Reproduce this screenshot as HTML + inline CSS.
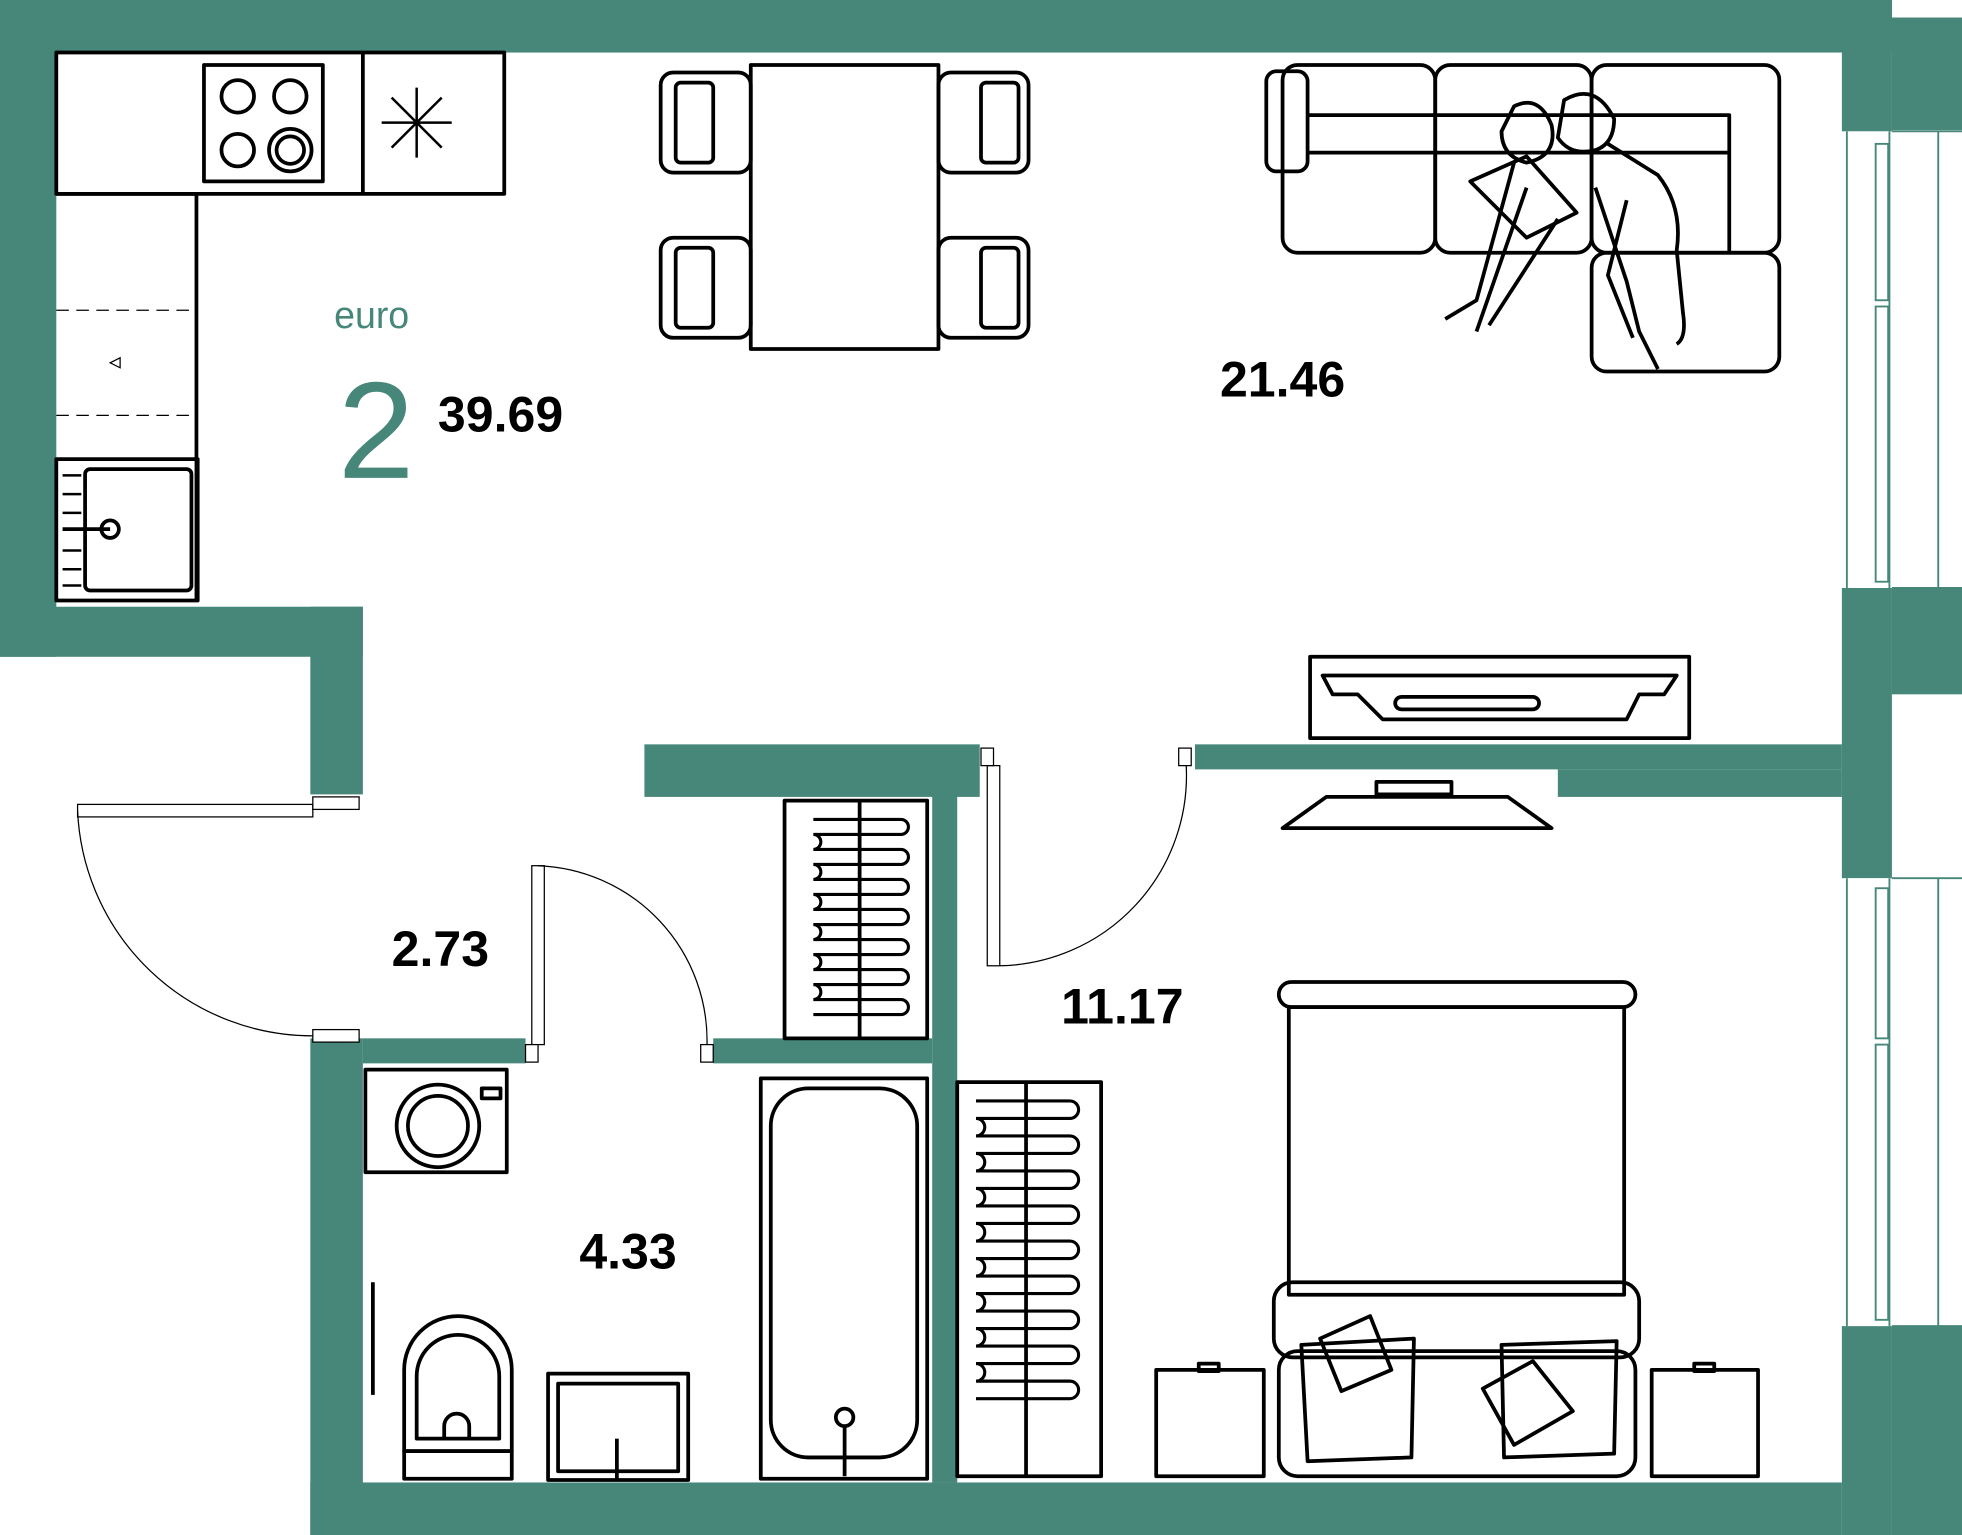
<!DOCTYPE html>
<html><head><meta charset="utf-8"><style>
html,body{margin:0;padding:0;background:#fff}
svg{display:block}
text{font-family:"Liberation Sans",sans-serif}
</style></head><body>
<svg width="1962" height="1535" viewBox="0 0 1568 1227" preserveAspectRatio="none" xmlns="http://www.w3.org/2000/svg">
<g fill="#47877A">
<!-- outer walls -->
<rect x="0" y="0" width="1512" height="42"/>
<rect x="1472" y="0" width="40" height="105"/>
<rect x="1512" y="14" width="56" height="90"/>
<rect x="0" y="0" width="45" height="525"/>
<rect x="0" y="485" width="290" height="40"/>
<rect x="248" y="485" width="42" height="150"/>
<rect x="248" y="830" width="42" height="397"/>
<rect x="248" y="1185" width="1224" height="42"/>
<rect x="1472" y="470" width="40" height="232"/>
<rect x="1512" y="470" width="56" height="85"/>
<rect x="1472" y="1060" width="40" height="167"/>
<rect x="1512" y="1060" width="56" height="167"/>
<!-- interior walls -->
<rect x="515" y="595" width="268" height="42"/>
<rect x="745" y="615" width="20" height="570"/>
<rect x="955" y="595" width="517" height="20"/>
<rect x="1245" y="615" width="227" height="22"/>
<rect x="290" y="830" width="130" height="20"/>
<rect x="570" y="830" width="175" height="20"/>
</g>
<!-- windows -->
<g fill="none" stroke="#47877A" stroke-width="1.5">
<rect x="1474" y="105" width="36" height="365" fill="#fff" stroke="none"/>
<line x1="1476" y1="105" x2="1476" y2="470"/><line x1="1510" y1="105" x2="1510" y2="470"/>
<rect x="1499" y="115" width="10" height="125"/><rect x="1499" y="245" width="10" height="220"/>
<line x1="1512" y1="105" x2="1568" y2="105"/><line x1="1512" y1="470" x2="1568" y2="470"/><line x1="1549" y1="105" x2="1549" y2="470"/>
<rect x="1474" y="702" width="36" height="358" fill="#fff" stroke="none"/>
<line x1="1476" y1="702" x2="1476" y2="1060"/><line x1="1510" y1="702" x2="1510" y2="1060"/>
<rect x="1499" y="710" width="10" height="120"/><rect x="1499" y="835" width="10" height="220"/>
<line x1="1512" y1="702" x2="1568" y2="702"/><line x1="1512" y1="1060" x2="1568" y2="1060"/><line x1="1549" y1="702" x2="1549" y2="1060"/>
</g>
<!-- doors -->
<g fill="#fff" stroke="#000" stroke-width="1">
<rect x="62" y="643" width="188" height="10"/>
<rect x="250" y="637" width="37" height="10"/>
<rect x="250" y="823" width="37" height="10"/>
<path d="M62 648 A188 188 0 0 0 250 828" fill="none"/>
<rect x="425" y="692" width="10" height="143"/>
<rect x="420" y="835" width="10" height="14"/>
<path d="M430 692 A140 140 0 0 1 565 836" fill="none"/>
<rect x="560" y="835" width="10" height="14"/>
<rect x="789" y="612" width="10" height="160"/>
<rect x="784" y="598" width="10" height="14"/>
<rect x="942" y="598" width="10" height="14"/>
<path d="M799 772 A152 152 0 0 0 948 612" fill="none"/>
</g>
<g fill="none" stroke="#000" stroke-width="3" stroke-linejoin="round">
<!-- kitchen -->
<rect x="45" y="42" width="358" height="113"/>
<line x1="290" y1="42" x2="290" y2="155"/>
<line x1="157" y1="155" x2="157" y2="480"/>
<line x1="45" y1="155" x2="157" y2="155"/>
<rect x="163" y="52" width="95" height="93"/>
<circle cx="190" cy="77" r="13"/><circle cx="232" cy="77" r="13"/><circle cx="190" cy="120" r="13"/><circle cx="232" cy="120" r="17"/><circle cx="232" cy="120" r="11"/>
<g stroke-width="2"><line x1="333" y1="70" x2="333" y2="126"/><line x1="305" y1="98" x2="361" y2="98"/><line x1="313" y1="78" x2="353" y2="118"/><line x1="313" y1="118" x2="353" y2="78"/></g>
<rect x="45" y="367" width="113" height="113"/>
<rect x="68" y="375" width="85" height="97" rx="4"/>
<circle cx="88" cy="423" r="7"/><line x1="50" y1="423" x2="88" y2="423"/>
<g stroke-width="2"><line x1="50" y1="380" x2="65" y2="380"/><line x1="50" y1="395" x2="65" y2="395"/><line x1="50" y1="410" x2="65" y2="410"/><line x1="50" y1="440" x2="65" y2="440"/><line x1="50" y1="455" x2="65" y2="455"/><line x1="50" y1="468" x2="65" y2="468"/></g>
<!-- dining -->
<rect x="600" y="52" width="150" height="227"/>
<rect x="528" y="58" width="72" height="80" rx="10"/><rect x="540" y="66" width="30" height="64" rx="4"/>
<rect x="528" y="190" width="72" height="80" rx="10"/><rect x="540" y="198" width="30" height="64" rx="4"/>
<rect x="750" y="58" width="72" height="80" rx="10"/><rect x="784" y="66" width="30" height="64" rx="4"/>
<rect x="750" y="190" width="72" height="80" rx="10"/><rect x="784" y="198" width="30" height="64" rx="4"/>
<!-- sofa -->
<rect x="1025" y="52" width="122" height="150" rx="12"/>
<rect x="1147" y="52" width="125" height="150" rx="12"/>
<rect x="1272" y="52" width="150" height="150" rx="12"/>
<rect x="1272" y="202" width="150" height="95" rx="12"/>
<rect x="1012" y="57" width="33" height="80" rx="8"/>
<path d="M1045 92 H1382 V202 M1045 122 H1382"/>
<!-- people (simplified) -->
<path d="M1210 85 q20 -10 30 15 q5 25 -20 30 q-20 -5 -20 -25 z"/>
<path d="M1250 80 q25 -15 40 15 q0 20 -15 25 q-20 5 -30 -10 z"/>
<path d="M1175 145 l45 45 l40 -20 l-40 -45 z"/>
<path d="M1210 130 l-30 110 l-25 15 M1220 150 l-40 115 M1245 175 l-55 85"/>
<path d="M1285 115 l40 25 q20 25 15 60 l5 50 q3 20 -5 25 M1275 150 l25 75 l10 40 l15 30 M1300 160 l-15 60 l20 50"/>
<!-- TV stand -->
<rect x="1047" y="525" width="303" height="65"/>
<path d="M1057 540 H1340 L1330 555 H1310 L1300 575 H1105 L1085 555 H1065 Z"/>
<rect x="1115" y="557" width="115" height="10" rx="5"/>
<path d="M1025 662 L1060 637 H1205 L1240 662 Z"/>
<rect x="1100" y="625" width="60" height="10"/>
<!-- radiators -->
<rect x="627" y="640" width="114" height="190"/>
<line x1="687" y1="640" x2="687" y2="830"/>
<rect x="765" y="865" width="115" height="315"/>
<line x1="820" y1="865" x2="820" y2="1180"/>
<!-- washer -->
<rect x="292" y="855" width="113" height="82"/>
<circle cx="350" cy="900" r="33"/><circle cx="350" cy="900" r="24"/>
<rect x="385" y="870" width="15" height="8"/>
<!-- toilet -->
<path d="M323 1160 V1095 a43 43 0 0 1 86 0 V1160 Z"/>
<path d="M333 1150 V1100 a33 33 0 0 1 66 0 V1150 Z"/>
<rect x="323" y="1160" width="86" height="22"/>
<path d="M355 1150 v-10 a10 10 0 0 1 20 0 v10"/>
<line x1="298" y1="1025" x2="298" y2="1115"/>
<!-- sink -->
<rect x="438" y="1098" width="112" height="85"/>
<rect x="446" y="1106" width="96" height="70"/>
<line x1="493" y1="1150" x2="493" y2="1183"/>
<!-- bath -->
<rect x="608" y="862" width="133" height="320"/>
<rect x="616" y="870" width="117" height="295" rx="30"/>
<circle cx="675" cy="1133" r="7"/><line x1="675" y1="1140" x2="675" y2="1180"/>
<!-- bed -->
<rect x="1022" y="785" width="285" height="20" rx="10"/>
<rect x="1030" y="805" width="268" height="230"/>
<rect x="1018" y="1025" width="292" height="60" rx="15"/>
<rect x="1022" y="1080" width="285" height="100" rx="15"/>
<path d="M1040 1075 L1130 1070 L1128 1165 L1045 1168 Z"/>
<path d="M1200 1075 L1292 1072 L1290 1162 L1202 1165 Z"/>
<path d="M1055 1070 L1095 1052 L1112 1095 L1072 1112 Z"/>
<path d="M1185 1110 L1225 1088 L1257 1128 L1210 1155 Z"/>
<rect x="924" y="1095" width="86" height="85"/><rect x="958" y="1090" width="16" height="6"/>
<rect x="1320" y="1095" width="85" height="85"/><rect x="1354" y="1090" width="16" height="6"/>
</g>
<g fill="none" stroke="#000" stroke-width="2.5">
<path d="M650 655 h70 a6 6 0 0 1 0 12 h-70 a6 6 0 0 1 0 12 h70 a6 6 0 0 1 0 12 h-70 a6 6 0 0 1 0 12 h70 a6 6 0 0 1 0 12 h-70 a6 6 0 0 1 0 12 h70 a6 6 0 0 1 0 12 h-70 a6 6 0 0 1 0 12 h70 a6 6 0 0 1 0 12 h-70 a6 6 0 0 1 0 12 h70 a6 6 0 0 1 0 12 h-70 a6 6 0 0 1 0 12 h70 a6 6 0 0 1 0 12 h-70"/>
<path d="M780 880 h75 a7 7 0 0 1 0 14 h-75 a7 7 0 0 1 0 14 h75 a7 7 0 0 1 0 14 h-75 a7 7 0 0 1 0 14 h75 a7 7 0 0 1 0 14 h-75 a7 7 0 0 1 0 14 h75 a7 7 0 0 1 0 14 h-75 a7 7 0 0 1 0 14 h75 a7 7 0 0 1 0 14 h-75 a7 7 0 0 1 0 14 h75 a7 7 0 0 1 0 14 h-75 a7 7 0 0 1 0 14 h75 a7 7 0 0 1 0 14 h-75 a7 7 0 0 1 0 14 h75 a7 7 0 0 1 0 14 h-75 a7 7 0 0 1 0 14 h75 a7 7 0 0 1 0 14 h-75"/>
</g>
<g stroke="#000" stroke-width="1" stroke-dasharray="10 6"><line x1="45" y1="248" x2="157" y2="248"/><line x1="45" y1="332" x2="157" y2="332"/></g>
<path d="M88 290 l8 -4 v8 z" fill="none" stroke="#000"/>
<text x="267" y="262" font-size="30" fill="#47877A">euro</text>
<text x="270" y="382" font-size="110" fill="#47877A">2</text>
<g font-size="40" font-weight="bold" fill="#000">
<text x="350" y="345">39.69</text>
<text x="975" y="317">21.46</text>
<text x="313" y="772">2.73</text>
<text x="848" y="818">11.17</text>
<text x="463" y="1014">4.33</text>
</g>
</svg>
</body></html>
